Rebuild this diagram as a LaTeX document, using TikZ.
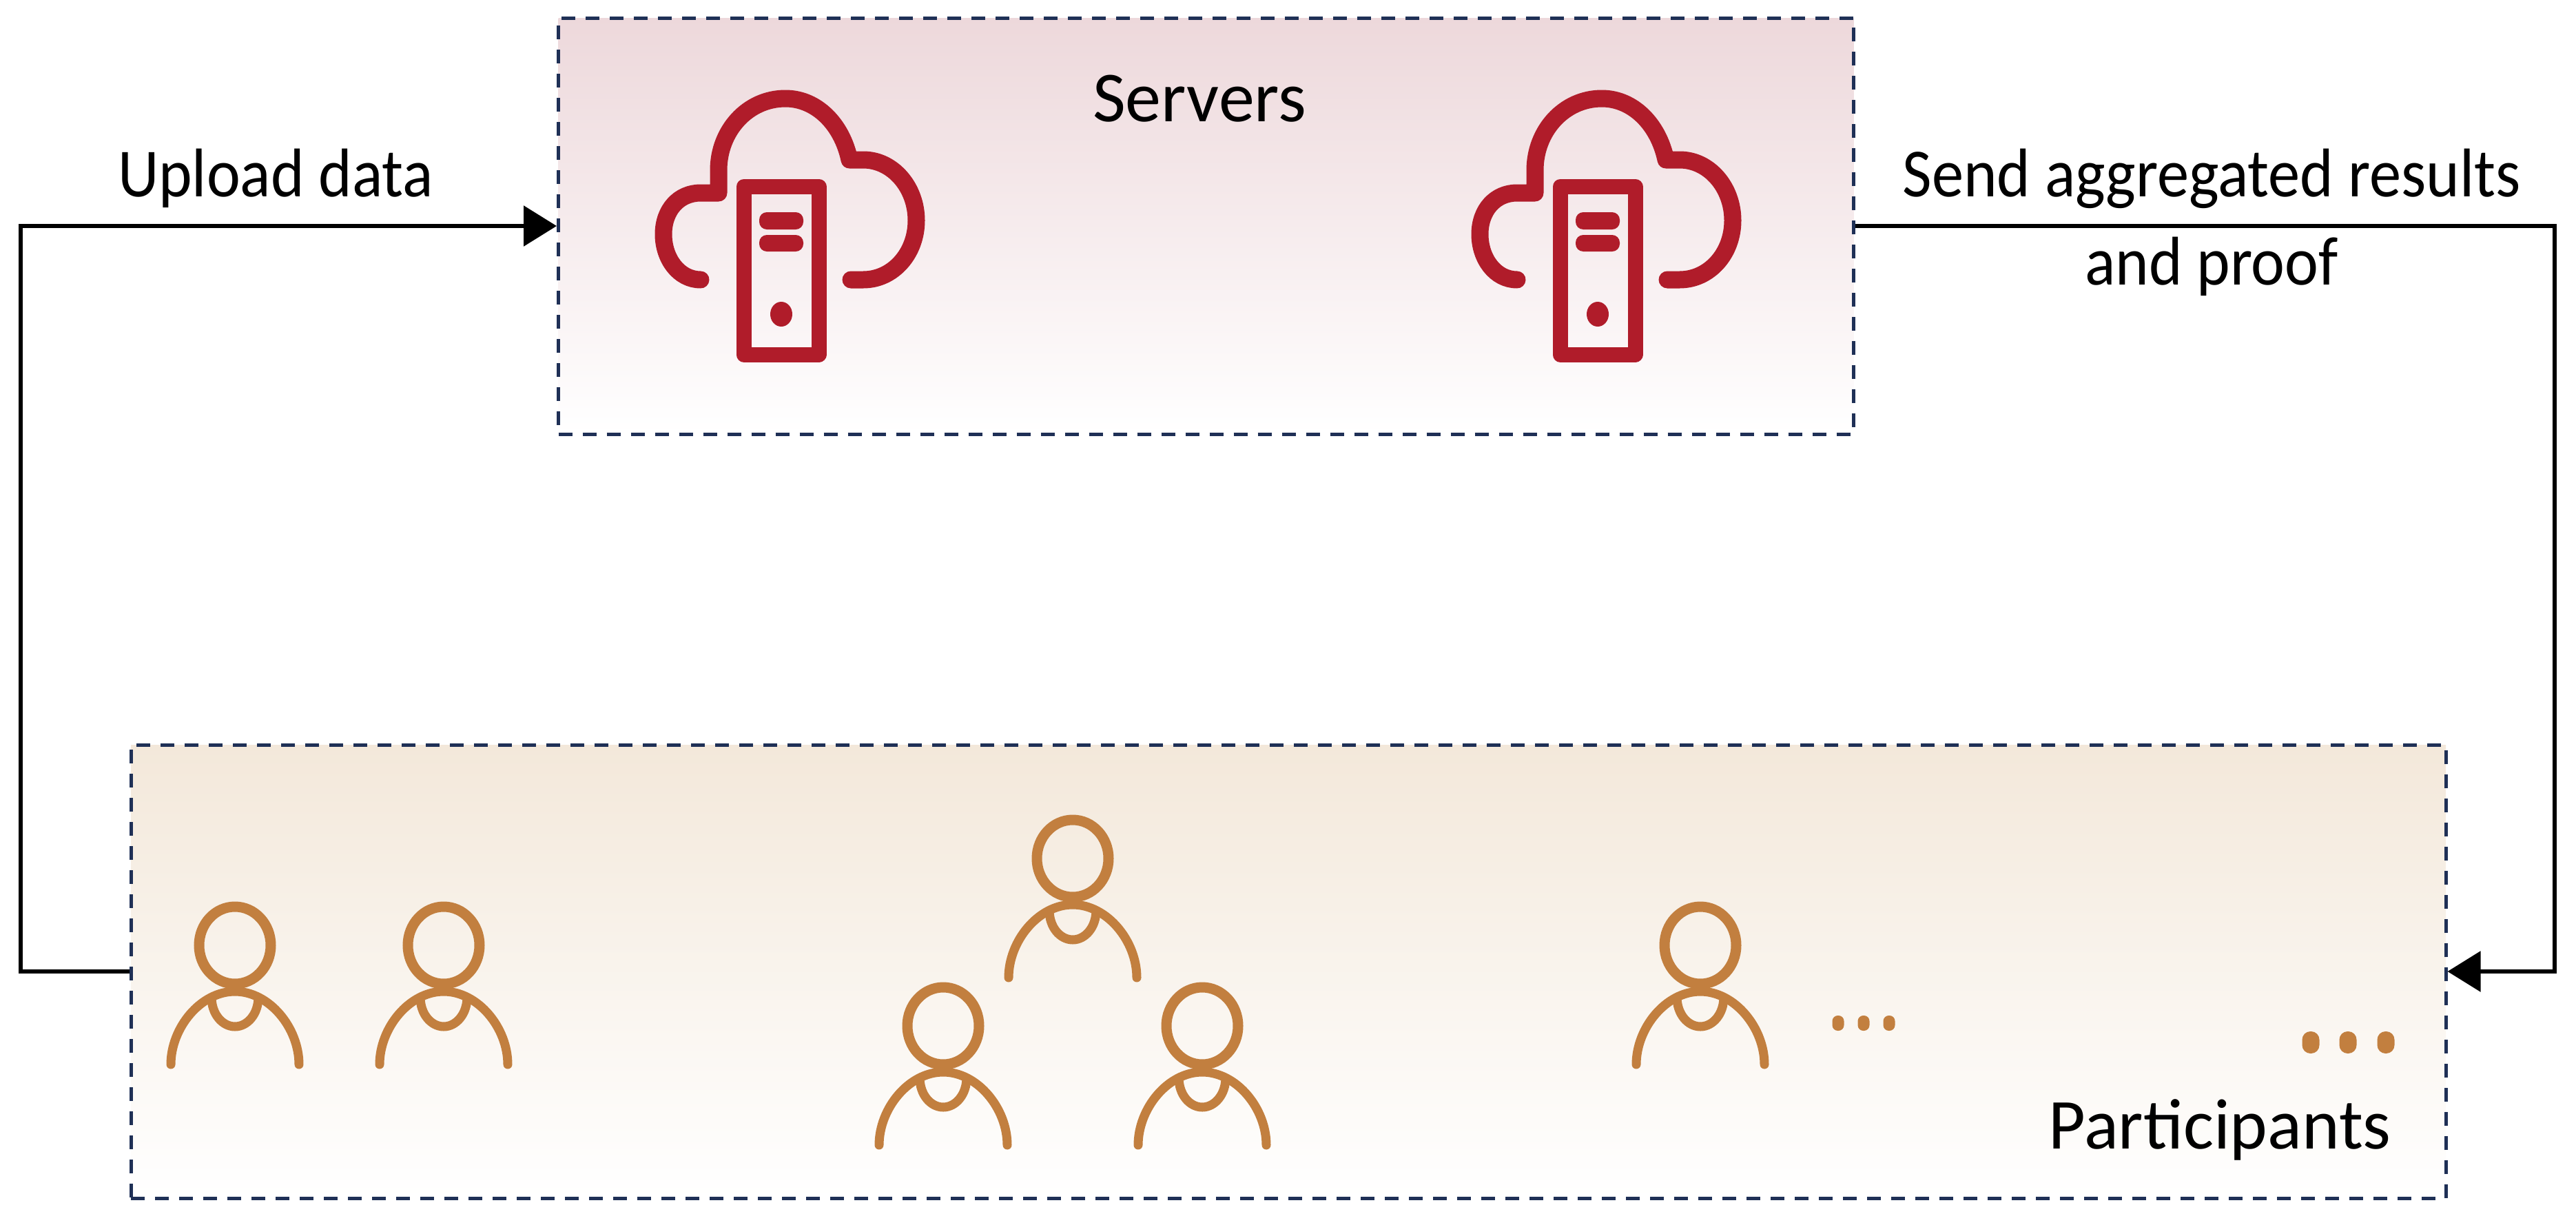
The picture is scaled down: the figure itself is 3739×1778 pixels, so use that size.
\documentclass[tikz,border=0pt]{standalone}
\usepackage{fontspec}
\setmainfont{Carlito}
\usetikzlibrary{arrows.meta}
\definecolor{srvred}{HTML}{B01C2A}
\definecolor{usr}{HTML}{C27F3F}
\definecolor{navy}{HTML}{1F3056}
\definecolor{srvtop}{HTML}{EDD8DB}
\definecolor{pattop}{HTML}{F3E8DA}
\newcommand{\narrowtext}[1]{\scalebox{0.925}[1]{#1}}
\tikzset{
  panel/.style={draw=navy,line width=2.5pt,dash pattern=on 10pt off 7.5pt,inner sep=0pt,anchor=center},
  lbl/.style={inner sep=0pt,font=\fontsize{52}{63.5}\selectfont,text=black},
  lblb/.style={inner sep=0pt,anchor=base,font=\fontsize{50}{60}\selectfont,text=black},
  link/.style={draw=black,line width=3pt,-{Triangle[length=24pt,width=29pt]}},
  pics/person/.style={code={
    \draw[usr,line width=7.5pt] (0,0) ellipse [x radius=26pt,y radius=28pt];
    \draw[usr,line width=6.5pt,line cap=round] (-93,173) .. controls (-93,120) and (-50,67) .. (0,67) .. controls (50,67) and (93,120) .. (93,173);
    \draw[usr,line width=6.5pt] (-34,75) .. controls (-34,100) and (-18,118) .. (0,118) .. controls (18,118) and (34,100) .. (34,75);
  }},
  pics/cloudsrv/.style={code={
    \draw[srvred,line width=12.5pt,line cap=round,line join=round]
      (117,306) .. controls (85,306) and (63,275) .. (63,240) .. controls (63,205) and (85,180) .. (117,180)
      -- (143,180) -- (143,147) .. controls (143,90) and (185,43) .. (240,43)
      .. controls (285,43) and (322,80) .. (333,132) -- (353,132)
      .. controls (396,132) and (430,172) .. (430,220) .. controls (430,268) and (396,306) .. (353,306) -- (335,306);
    \draw[srvred,line width=11pt,line join=round] (179.5,171) rectangle (288.5,414.5);
    \fill[srvred,rounded corners=5.5pt] (202,208) rectangle (266,233);
    \fill[srvred,rounded corners=5.5pt] (202,241) rectangle (266,265);
    \fill[srvred] (234,356) ellipse [x radius=8pt,y radius=9pt];
  }},
}
\begin{document}
\begin{tikzpicture}[x=0.5pt,y=-0.5pt]
\useasboundingbox (0,0) rectangle (3739,1778);
% panels
\node[panel,top color=srvtop,bottom color=white,minimum width=940pt,minimum height=302pt] (servers) at (1750.5,328) {};
\node[panel,top color=pattop,bottom color=white,minimum width=1680pt,minimum height=329pt] (participants) at (1870,1410) {};
% icons
\pic at (900,100) {cloudsrv};
\pic at (2085,100) {cloudsrv};
\pic at (341,1372) {person};
\pic at (644,1372) {person};
\pic at (1557,1246) {person};
\pic at (1369,1489) {person};
\pic at (1745,1489) {person};
\pic at (2468,1372) {person};
% dots
\foreach \x in {2668,2705,2742} \fill[usr,rounded corners=4pt] (\x-8.5,1474) rectangle (\x+8.5,1496);
\foreach \x in {3354,3408,3463} \fill[usr,rounded corners=6pt] (\x-12.5,1497) rectangle (\x+12.5,1529);
% labels
\node[lbl] (lservers) at (1741,143) {Servers};
\node[lblb] (lupload) at (400,285) {\narrowtext{Upload data}};
\node[lblb] (lsendone) at (3210,285) {\narrowtext{Send aggregated results}};
\node[lblb] (lsendtwo) at (3210,413) {\narrowtext{and proof}};
\node[lbl] (lpart) at (3222,1640) {Participants};
% connectors
\coordinate (lb) at (30,1410);
\coordinate (lt) at (30,328);
\coordinate (rt) at (3708,328);
\coordinate (rb) at (3708,1410);
\draw[link] (participants.west) -- (lb) -- (lt) -- (servers.west);
\draw[link] (servers.east) -- (rt) -- (rb) -- (participants.east);
\end{tikzpicture}
\end{document}
